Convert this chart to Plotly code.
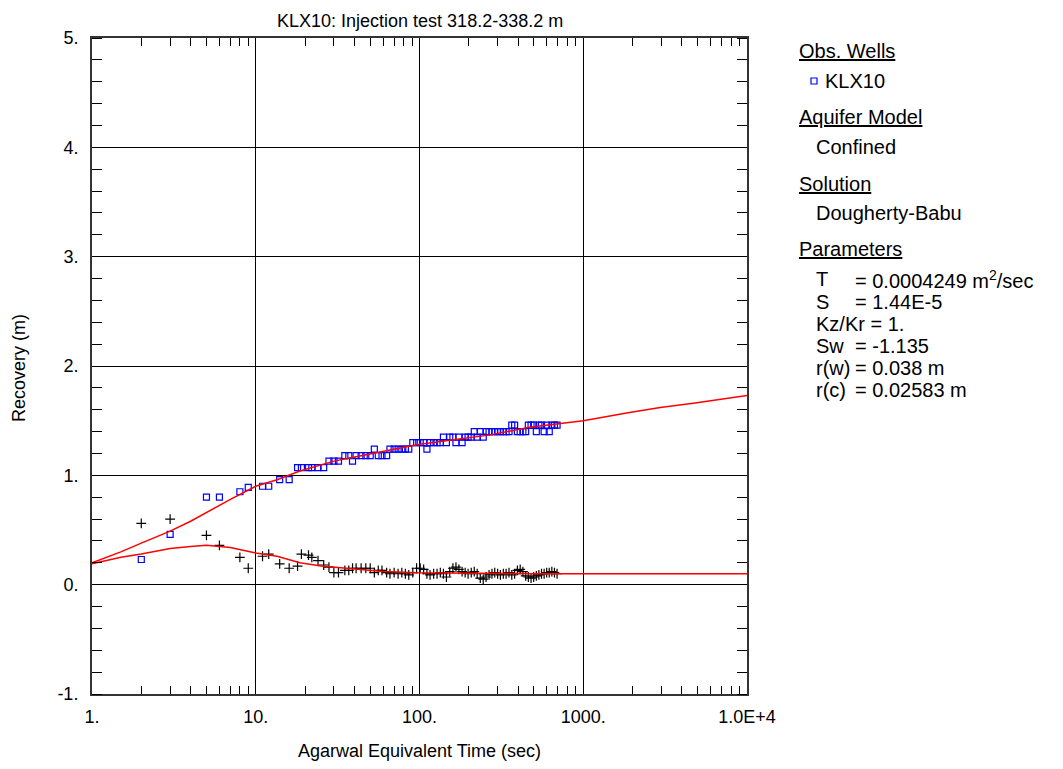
import plotly.graph_objects as go

# ---------------- data ----------------
obs_time = [2, 3, 5, 6, 8, 9, 11, 12, 14, 16, 18, 19, 21, 22, 24, 26, 28, 30, 32, 35,
            37, 39, 41, 44, 47, 50, 53, 56, 59, 63, 66, 70, 74, 78, 82, 86, 91, 96, 101, 106,
            111, 116, 122, 128, 134, 140, 146, 153, 160, 167, 174, 182, 190, 198, 207, 216, 225, 235, 245, 255,
            266, 277, 288, 300, 312, 325, 338, 352, 366, 381, 396, 412, 428, 445, 462, 480, 498, 517, 536, 556,
            577, 598, 620, 643, 667, 692]
obs_recovery = [0.23, 0.46, 0.80, 0.80, 0.85, 0.89, 0.90, 0.90, 0.96, 0.96, 1.07, 1.07, 1.07, 1.07, 1.07, 1.07, 1.13, 1.13, 1.13, 1.18,
                1.18, 1.13, 1.18, 1.18, 1.18, 1.18, 1.24, 1.18, 1.18, 1.18, 1.24, 1.24, 1.24, 1.24, 1.24, 1.24, 1.30, 1.30, 1.30, 1.30,
                1.24, 1.30, 1.30, 1.30, 1.30, 1.35, 1.30, 1.35, 1.35, 1.30, 1.35, 1.30, 1.35, 1.35, 1.35, 1.40, 1.35, 1.40, 1.35, 1.40,
                1.40, 1.40, 1.40, 1.40, 1.40, 1.40, 1.40, 1.40, 1.46, 1.46, 1.40, 1.40, 1.40, 1.40, 1.46, 1.46, 1.46, 1.40, 1.46, 1.46,
                1.40, 1.46, 1.40, 1.46, 1.46, 1.46]
obs_derivative = [0.56, 0.60, 0.45, 0.36, 0.25, 0.15, 0.26, 0.28, 0.19, 0.15, 0.17, 0.28, 0.27, 0.25, 0.22, 0.18, 0.16, 0.11, 0.11, 0.13,
                  0.13, 0.15, 0.15, 0.15, 0.15, 0.15, 0.11, 0.13, 0.13, 0.11, 0.10, 0.11, 0.10, 0.11, 0.10, 0.09, 0.11, 0.15, 0.15, 0.14,
                  0.10, 0.09, 0.10, 0.10, 0.11, 0.10, 0.07, 0.12, 0.15, 0.16, 0.14, 0.12, 0.11, 0.10, 0.11, 0.12, 0.10, 0.06, 0.05, 0.07,
                  0.09, 0.10, 0.11, 0.10, 0.09, 0.10, 0.10, 0.11, 0.09, 0.10, 0.13, 0.14, 0.12, 0.08, 0.07, 0.06, 0.07, 0.08, 0.09, 0.10,
                  0.10, 0.11, 0.11, 0.12, 0.11, 0.10]

fit_time = [1, 1.5, 2, 3, 4, 5, 7, 10, 13.5, 18.6, 25, 30, 41, 60, 96, 170, 270, 470, 800, 1000, 1840, 2950, 4700, 8200, 10000]
fit_recovery = [0.20, 0.30, 0.38, 0.49, 0.58, 0.66, 0.78, 0.90, 0.96, 1.04, 1.10, 1.13, 1.17, 1.22, 1.28, 1.33, 1.37, 1.44, 1.48, 1.50,
                1.57, 1.62, 1.66, 1.71, 1.73]
fit_derivative = [0.19, 0.25, 0.28, 0.33, 0.35, 0.36, 0.34, 0.29, 0.26, 0.20, 0.17, 0.16, 0.14, 0.12, 0.11, 0.105, 0.10, 0.10, 0.10, 0.10,
                  0.10, 0.10, 0.10, 0.10, 0.10]

x_tickvals = [1, 10, 100, 1000, 10000]
x_ticktext = ["1.", "10.", "100.", "1000.", "1.0E+4"]
y_tickvals = [-1, 0, 1, 2, 3, 4, 5]
y_ticktext = ["-1.", "0.", "1.", "2.", "3.", "4.", "5."]

title_text = "KLX10: Injection test 318.2-338.2 m"
x_title = "Agarwal Equivalent Time (sec)"
y_title = "Recovery (m)"

param_names = ["T", "S", "Kz/Kr = 1.", "Sw", "r(w)", "r(c)"]
param_values = ["= 0.0004249 m<sup>2</sup>/sec", "= 1.44E-5", "", "= -1.135", "= 0.038 m", "= 0.02583 m"]

# ---------------- layout geometry (page pixels; body has 8px margin) ----------------
OFF = 8
W, H = 1063 - 2 * OFF, 769 - 2 * OFF
L, R, T, B = 92, 747, 38, 694          # plot area in page pixels
FONT = "Liberation Sans, Arial, sans-serif"
FS = 18
LS = 20


def px(xp):
    return (xp - L) / (R - L)


def py(yp):
    return (B - yp) / (B - T)


minor_x = [m * 10 ** d for d in range(4) for m in range(2, 10)]

fig = go.Figure()
fig.add_trace(go.Scatter(x=obs_time, y=obs_recovery, mode="markers",
                         marker=dict(symbol="square-open", size=6, color="#0000ff",
                                     line=dict(width=1.2, color="#0000ff")),
                         showlegend=False))
fig.add_trace(go.Scatter(x=obs_time, y=obs_derivative, mode="markers",
                         marker=dict(symbol="cross-thin", size=7,
                                     line=dict(width=1.2, color="#000000")),
                         showlegend=False))
fig.add_trace(go.Scatter(x=fit_time, y=fit_recovery, mode="lines",
                         line=dict(color="#ff0000", width=1.5), showlegend=False))
fig.add_trace(go.Scatter(x=fit_time, y=fit_derivative, mode="lines",
                         line=dict(color="#ff0000", width=1.5), showlegend=False))

fig.update_layout(
    width=W, height=H, autosize=False,
    margin=dict(l=L - OFF, r=W + OFF - R, t=T - OFF, b=H + OFF - B, pad=0),
    paper_bgcolor="white", plot_bgcolor="white",
    font=dict(family=FONT, size=FS, color="black"),
    showlegend=False,
)
fig.update_xaxes(
    type="log", range=[0, 4],
    tickmode="array", tickvals=x_tickvals, ticktext=x_ticktext,
    ticks="", ticklabelstandoff=5,
    showgrid=True, gridcolor="black", gridwidth=1,
    showline=True, linecolor="#333333", linewidth=2, mirror="allticks",
    zeroline=False,
    minor=dict(tickmode="array", tickvals=minor_x, ticks="inside", ticklen=8,
               tickcolor="black", tickwidth=1, showgrid=False),
    tickfont=dict(size=FS),
)
fig.update_yaxes(
    range=[-1, 5],
    tickmode="array", tickvals=y_tickvals, ticktext=y_ticktext,
    ticks="", ticklabelstandoff=8,
    showgrid=True, gridcolor="black", gridwidth=1,
    showline=True, linecolor="#333333", linewidth=2, mirror="allticks",
    zeroline=False,
    minor=dict(dtick=0.2, tick0=0, ticks="inside", ticklen=10,
               tickcolor="black", tickwidth=1, showgrid=False),
    tickfont=dict(size=FS),
)

ann = []


def add_text(text, xp, yp, xanchor="left", yanchor="middle", size=FS, textangle=0):
    ann.append(dict(text=text, x=px(xp), y=py(yp), xref="paper", yref="paper",
                    xanchor=xanchor, yanchor=yanchor, showarrow=False,
                    textangle=textangle, font=dict(family=FONT, size=size, color="black")))


add_text(title_text, (L + R) / 2, OFF + 1, xanchor="center", yanchor="top")
add_text(x_title, (L + R) / 2, 751, xanchor="center")
add_text(y_title, 19, 368, xanchor="center", textangle=-90)

add_text("<u>Obs. Wells</u>", 797, 51, size=LS)
add_text("KLX10", 823, 81, size=LS)
add_text("<u>Aquifer Model</u>", 797, 117, size=LS)
add_text("Confined", 814, 147, size=LS)
add_text("<u>Solution</u>", 797, 184, size=LS)
add_text("Dougherty-Babu", 814, 213, size=LS)
add_text("<u>Parameters</u>", 797, 249, size=LS)
row_y = [279, 302, 324, 346, 368, 390]
for name, val, yy in zip(param_names, param_values, row_y):
    add_text(name, 814, yy, size=LS)
    if val:
        add_text(val, 853, yy, size=LS)

fig.update_layout(annotations=ann)

# legend marker square
fig.add_shape(type="rect", xref="paper", yref="paper",
              xsizemode="pixel", ysizemode="pixel",
              xanchor=px(814), yanchor=py(81),
              x0=-3, x1=3, y0=-3, y1=3,
              line=dict(color="#0000ff", width=1.2), fillcolor="white")

fig.write_html("out.html")
